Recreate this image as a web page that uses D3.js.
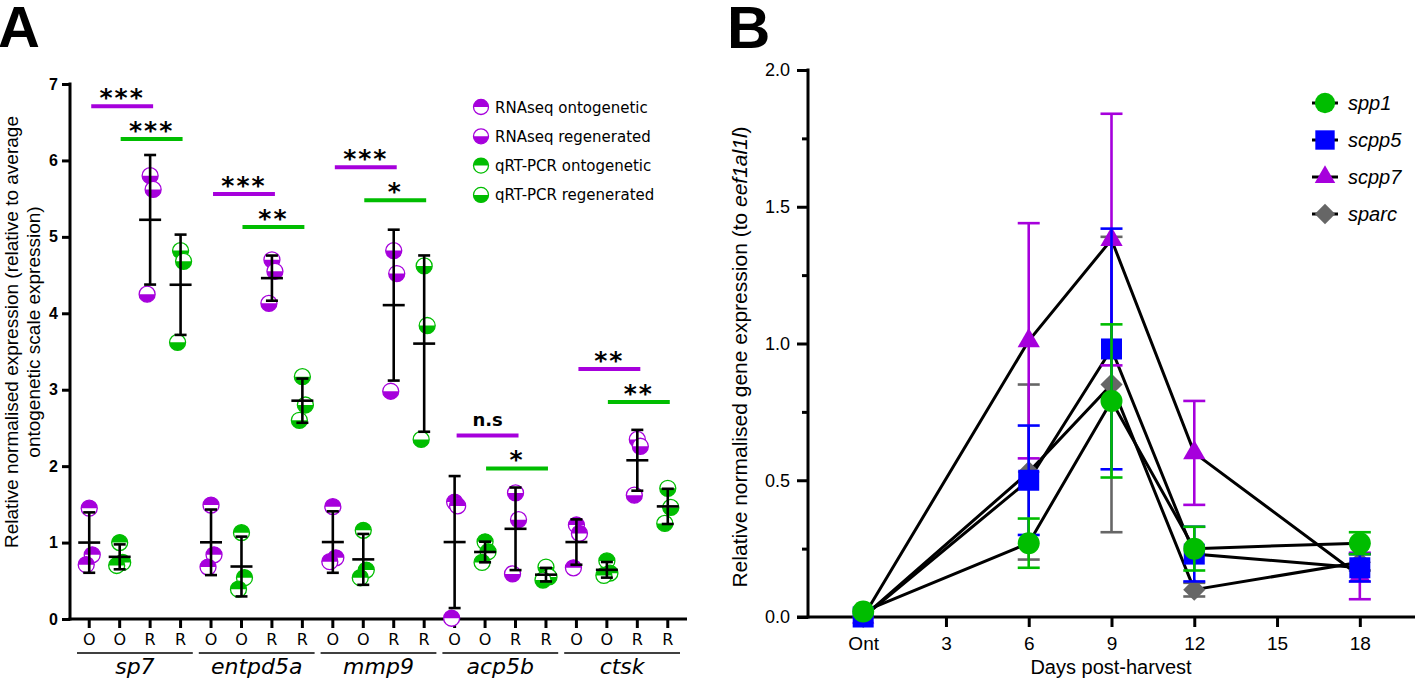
<!DOCTYPE html>
<html>
<head>
<meta charset="utf-8">
<script src="https://cdn.jsdelivr.net/npm/d3@7"></script>
<style>
  body { margin: 0; background: #fff; }
  svg { display: block; }
</style>
</head>
<body>
<svg id="chart" width="1418" height="681"></svg>
<script>
// ---------- panel A data ----------
const genes = ["sp7", "entpd5a", "mmp9", "acp5b", "ctsk"];
const colLabels = ["O", "O", "R", "R"];
const legendA = ["RNAseq ontogenetic", "RNAseq regenerated", "qRT-PCR ontogenetic", "qRT-PCR regenerated"];

// replicate values per gene
const rnaOnt = [[1.45, 0.84, 0.71], [1.49, 0.84, 0.68], [1.47, 0.80, 0.75], [1.53, 1.48, 0.01], [1.23, 1.12, 0.67]];
const pcrOnt = [[1.00, 0.74, 0.70], [1.13, 0.54, 0.39], [1.16, 0.64, 0.54], [1.01, 0.88, 0.74], [0.76, 0.60, 0.57]];
const rnaReg = [[5.80, 5.62, 4.25], [4.70, 4.55, 4.13], [4.82, 4.52, 2.98], [1.65, 1.30, 0.59], [2.35, 2.26, 1.62]];
const pcrReg = [[4.82, 4.68, 3.62], [3.17, 2.80, 2.60], [4.62, 3.84, 2.35], [0.68, 0.55, 0.51], [1.71, 1.46, 1.25]];

// significance bars (height in y units) and labels
const sigRnaY = [6.71, 5.56, 5.91, 2.40, 3.27];
const sigPcrY = [6.28, 5.13, 5.48, 1.97, 2.84];
const sigRnaLab = ["***", "***", "***", "n.s", "**"];
const sigPcrLab = ["***", "**", "*", "*", "**"];

// ---------- panel B data ----------
const days = [0, 6, 9, 12, 18];
const dayTicks = [0, 3, 6, 9, 12, 15, 18];
const seriesNames = ["spp1", "scpp5", "scpp7", "sparc"];
const spp1Mean = [0.02, 0.27, 0.79, 0.25, 0.27];
const spp1Sd = [0, 0.09, 0.28, 0.08, 0.04];
const scpp5Mean = [0.00, 0.50, 0.98, 0.23, 0.18];
const scpp5Sd = [0, 0.20, 0.44, 0.10, 0.05];
const scpp7Mean = [0.00, 1.01, 1.38, 0.60, 0.15];
const scpp7Sd = [0, 0.43, 0.46, 0.19, 0.085];
const sparcMean = [0.00, 0.53, 0.85, 0.10, 0.20];
const sparcSd = [0, 0.32, 0.54, 0.025, 0.03];

const purple = "#a600dc";
const green = "#00bd00";
const blue = "#0000ff";
const grey = "#666666";

const svg = d3.select("#chart");
const sans = "'Liberation Sans', Arial, sans-serif";
const deja = "'DejaVu Sans', Verdana, sans-serif";

// ================= PANEL A =================
const yA = d3.scaleLinear().domain([0, 7]).range([619, 84]);
const xA = d3.scaleBand().domain(d3.range(genes.length * 4)).range([74, 683]);
const xc = i => xA(i) + xA.bandwidth() / 2;

svg.append("text").attr("x", -2).attr("y", 47)
  .attr("font-family", sans).attr("font-weight", "bold").attr("font-size", 58).text("A");

// y axis
const yAxisA = svg.append("g").attr("transform", "translate(70,0)")
  .call(d3.axisLeft(yA).ticks(7).tickSize(8).tickPadding(4).tickSizeOuter(0));
yAxisA.select(".domain").remove();
yAxisA.selectAll(".tick line").attr("stroke-width", 3);
yAxisA.selectAll(".tick text").attr("font-family", sans).attr("font-weight", "bold").attr("font-size", 16).attr("fill", "#000");
svg.append("line").attr("x1", 70).attr("x2", 70).attr("y1", 82.5).attr("y2", 620.5)
  .attr("stroke", "#000").attr("stroke-width", 3);

// x axis
const xAxisA = svg.append("g").attr("transform", "translate(0,619)")
  .call(d3.axisBottom(xA).tickSize(9).tickPadding(6).tickFormat(i => colLabels[i % 4]));
xAxisA.select(".domain").remove();
xAxisA.selectAll(".tick line").attr("stroke-width", 3);
xAxisA.selectAll(".tick text").attr("font-family", deja).attr("font-size", 16).attr("fill", "#000");
svg.append("line").attr("x1", 68.5).attr("x2", 687).attr("y1", 619).attr("y2", 619)
  .attr("stroke", "#000").attr("stroke-width", 3);

// gene group labels
genes.forEach((g, gi) => {
  const x0 = xA(gi * 4) + 3, x1 = xA(gi * 4 + 3) + xA.bandwidth() - 3;
  svg.append("line").attr("x1", x0).attr("x2", x1).attr("y1", 653).attr("y2", 653)
    .attr("stroke", "#000").attr("stroke-width", 1.3);
  svg.append("text").attr("x", (x0 + x1) / 2).attr("y", 674).attr("text-anchor", "middle")
    .attr("font-family", deja).attr("font-style", "italic").attr("font-size", 22).text(g);
});

// y title
const yTitleA = svg.append("text").attr("transform", "translate(18,332) rotate(-90)")
  .attr("text-anchor", "middle").attr("font-family", sans).attr("font-size", 19);
yTitleA.append("tspan").attr("x", 0).attr("y", 0).text("Relative normalised expression (relative to average");
yTitleA.append("tspan").attr("x", 0).attr("y", 22).text("ontogenetic scale expression)");

function halfCircle(g, cx, cy, r, color, topFilled) {
  const s = g.append("g").attr("transform", `translate(${cx},${cy})`);
  s.append("circle").attr("r", r).attr("fill", "#fff").attr("stroke", color).attr("stroke-width", 1.3);
  const sweep = topFilled ? 1 : 0;
  s.append("path").attr("d", `M${-r},0 A${r},${r} 0 0 ${sweep} ${r},0 Z`).attr("fill", color);
}

// columns: O RNAseq, O qPCR, R RNAseq, R qPCR
const colSets = [
  { vals: rnaOnt, color: purple, top: true },
  { vals: pcrOnt, color: green, top: true },
  { vals: rnaReg, color: purple, top: false },
  { vals: pcrReg, color: green, top: false }
];
const jitter = [0, 3, -3];
const pts = svg.append("g");
const bars = svg.append("g");
genes.forEach((g, gi) => {
  colSets.forEach((cs, ci) => {
    const col = gi * 4 + ci;
    const v = cs.vals[gi];
    v.forEach((d, k) => halfCircle(pts, xc(col) + jitter[k], yA(d), 8, cs.color, cs.top));
    const m = d3.mean(v), sd = d3.deviation(v);
    const x = xc(col);
    const eb = bars.append("g").attr("stroke", "#000").attr("stroke-width", 2.6);
    eb.append("line").attr("x1", x).attr("x2", x).attr("y1", yA(m + sd)).attr("y2", yA(Math.max(0, m - sd)));
    eb.append("line").attr("x1", x - 6).attr("x2", x + 6).attr("y1", yA(m + sd)).attr("y2", yA(m + sd));
    eb.append("line").attr("x1", x - 6).attr("x2", x + 6).attr("y1", yA(Math.max(0, m - sd))).attr("y2", yA(Math.max(0, m - sd)));
    eb.append("line").attr("x1", x - 11).attr("x2", x + 11).attr("y1", yA(m)).attr("y2", yA(m));
  });
});

// significance bars
function sigBar(x0, x1, yv, color, lab) {
  const y = yA(yv);
  svg.append("line").attr("x1", x0).attr("x2", x1).attr("y1", y).attr("y2", y)
    .attr("stroke", color).attr("stroke-width", 4);
  const t = svg.append("text").attr("x", (x0 + x1) / 2).attr("text-anchor", "middle")
    .attr("font-family", deja).attr("font-weight", "bold").text(lab);
  if (lab.startsWith("*")) t.attr("y", y).attr("font-size", 25).attr("letter-spacing", 2);
  else t.attr("y", y - 10).attr("font-size", 18);
}
genes.forEach((g, gi) => {
  sigBar(xc(gi * 4) + 2, xc(gi * 4 + 2) + 3, sigRnaY[gi], purple, sigRnaLab[gi]);
  sigBar(xc(gi * 4 + 1) + 1, xc(gi * 4 + 3) + 2, sigPcrY[gi], green, sigPcrLab[gi]);
});

// legend A
const legColors = [purple, purple, green, green];
const legTop = [true, false, true, false];
legendA.forEach((l, i) => {
  const y = 107 + i * 29.3;
  halfCircle(svg, 481, y, 7.5, legColors[i], legTop[i]);
  svg.append("text").attr("x", 495).attr("y", y + 5.5).attr("font-family", deja).attr("font-size", 15).text(l);
});

// ================= PANEL B =================
const xB = d3.scaleLinear().domain([-2, 20]).range([808, 1415]);
const yB = d3.scaleLinear().domain([0, 2]).range([617, 70]);

svg.append("text").attr("x", 727).attr("y", 48)
  .attr("font-family", sans).attr("font-weight", "bold").attr("font-size", 60).text("B");

const yAxisB = svg.append("g").attr("transform", "translate(808,0)")
  .call(d3.axisLeft(yB).tickValues([0, 0.5, 1, 1.5, 2]).tickFormat(d3.format(".1f")).tickSize(11).tickPadding(7).tickSizeOuter(0));
yAxisB.select(".domain").remove();
yAxisB.selectAll(".tick line").attr("stroke-width", 3);
yAxisB.selectAll(".tick text").attr("font-family", sans).attr("font-size", 18).attr("fill", "#000");
const yMinorB = svg.append("g").attr("transform", "translate(808,0)")
  .call(d3.axisLeft(yB).tickValues([0.25, 0.75, 1.25, 1.75]).tickSize(6).tickFormat(""));
yMinorB.select(".domain").remove();
yMinorB.selectAll(".tick line").attr("stroke-width", 3);
svg.append("line").attr("x1", 808).attr("x2", 808).attr("y1", 68.5).attr("y2", 618.5)
  .attr("stroke", "#000").attr("stroke-width", 3);

const xAxisB = svg.append("g").attr("transform", "translate(0,617)")
  .call(d3.axisBottom(xB).tickValues(dayTicks).tickFormat(d => d === 0 ? "Ont" : d).tickSize(10).tickPadding(10));
xAxisB.select(".domain").remove();
xAxisB.selectAll(".tick line").attr("stroke-width", 3);
xAxisB.selectAll(".tick text").attr("font-family", sans).attr("font-size", 19).attr("fill", "#000");
svg.append("line").attr("x1", 797).attr("x2", 1415).attr("y1", 617).attr("y2", 617)
  .attr("stroke", "#000").attr("stroke-width", 3);

svg.append("text").attr("x", 1111).attr("y", 674).attr("text-anchor", "middle")
  .attr("font-family", sans).attr("font-size", 20).text("Days post-harvest");

const yTitleB = svg.append("text").attr("transform", "translate(747,357) rotate(-90)")
  .attr("text-anchor", "middle").attr("font-family", sans).attr("font-size", 21);
yTitleB.append("tspan").text("Relative normalised gene expression (to ");
yTitleB.append("tspan").attr("font-style", "italic").text("eef1al1l");
yTitleB.append("tspan").text(")");

const series = [
  { name: "spp1", mean: spp1Mean, sd: spp1Sd, color: green, shape: "circle" },
  { name: "scpp5", mean: scpp5Mean, sd: scpp5Sd, color: blue, shape: "square" },
  { name: "scpp7", mean: scpp7Mean, sd: scpp7Sd, color: purple, shape: "triangle" },
  { name: "sparc", mean: sparcMean, sd: sparcSd, color: grey, shape: "diamond" }
];

function marker(g, shape, x, y, color, scale) {
  let sym;
  if (shape === "circle") sym = d3.symbol(d3.symbolCircle, 380 * scale);
  else if (shape === "square") sym = d3.symbol(d3.symbolSquare, 441 * scale);
  else if (shape === "triangle") sym = d3.symbol(d3.symbolTriangle, 215 * scale);
  else sym = d3.symbol(d3.symbolSquare, 245 * scale);
  const rot = shape === "diamond" ? " rotate(45)" : "";
  g.append("path").attr("d", sym()).attr("transform", `translate(${x},${y})${rot}`).attr("fill", color);
}

const line = d3.line().x((d, i) => xB(days[i])).y(d => yB(d));
series.forEach(s => {
  svg.append("path").attr("d", line(s.mean)).attr("fill", "none")
    .attr("stroke", "#000").attr("stroke-width", 3);
});

series.slice().reverse().forEach(s => {
  const g = svg.append("g");
  s.mean.forEach((m, i) => {
    const x = xB(days[i]);
    if (s.sd[i] > 0) {
      const eb = g.append("g").attr("stroke", s.color).attr("stroke-width", 2.6);
      eb.append("line").attr("x1", x).attr("x2", x).attr("y1", yB(m + s.sd[i])).attr("y2", yB(Math.max(0, m - s.sd[i])));
      eb.append("line").attr("x1", x - 11).attr("x2", x + 11).attr("y1", yB(m + s.sd[i])).attr("y2", yB(m + s.sd[i]));
      eb.append("line").attr("x1", x - 11).attr("x2", x + 11).attr("y1", yB(Math.max(0, m - s.sd[i]))).attr("y2", yB(Math.max(0, m - s.sd[i])));
    }
    marker(g, s.shape, x, yB(m), s.color, 1);
  });
});

// legend B
series.forEach((s, i) => {
  const y = 103 + i * 37;
  svg.append("line").attr("x1", 1312).attr("x2", 1338).attr("y1", y).attr("y2", y)
    .attr("stroke", "#000").attr("stroke-width", 3);
  marker(svg, s.shape, 1325, y, s.color, 0.85);
  svg.append("text").attr("x", 1348).attr("y", y + 7).attr("font-family", sans)
    .attr("font-style", "italic").attr("font-size", 20).text(s.name);
});
</script>
</body>
</html>
